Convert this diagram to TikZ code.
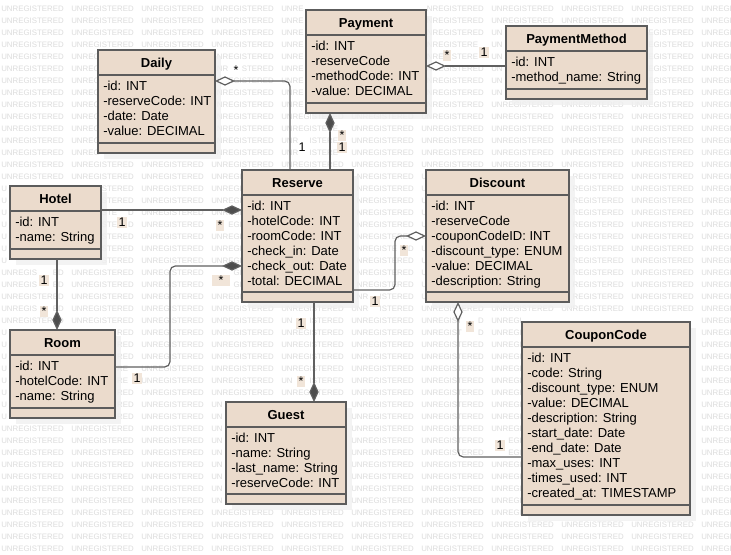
\documentclass[tikz,border=0pt]{standalone}
\usepackage{fontspec}
\setmainfont{Liberation Sans}
\usetikzlibrary{arrows.meta}
\definecolor{boxfill}{RGB}{235,219,204}
\definecolor{boxdraw}{RGB}{92,92,92}
\definecolor{linec}{RGB}{96,96,96}
\definecolor{wmc}{RGB}{220,220,220}
\definecolor{lblfill}{RGB}{241,229,217}
\tikzset{
  classbox/.style={draw=boxdraw, fill=boxfill, line width=1.4pt, inner sep=0pt, outer sep=0pt, rectangle},
  boxline/.style={draw=boxdraw, line width=1.4pt},
  shadowst/.style={fill=black!6, opacity=0.8},
  titlest/.style={font=\bfseries\fontsize{9.75}{11}\selectfont, anchor=base, inner sep=0pt},
  attrst/.style={font=\fontsize{9.75}{11}\selectfont, anchor=base west, inner sep=0pt},
  wmst/.style={font=\fontsize{5.9}{6}\selectfont, text=wmc, anchor=west, inner sep=0pt},
  conn/.style={draw=linec, line width=0.9pt, rounded corners=4pt},
  agg/.tip={Diamond[length=15pt, width=7pt, fill=white, line width=0.9pt]},
  comp/.tip={Diamond[length=15pt, width=7pt, fill=linec!80!black, line width=0.9pt]},
  lbl/.style={font=\fontsize{9.4}{11}\selectfont, anchor=base, inner sep=1pt},
  lblbg/.style={lbl, fill=lblfill},
}
\newcommand\umlclass[7]{%
  \fill[shadowst] (#2+6,#3+6) rectangle (#4+6,#5+6);
  \node[classbox, minimum width={(#4-#2)*0.75pt}, minimum height={(#5-#3)*0.75pt}] (#1) at ({(#2+#4)/2},{(#3+#5)/2}) {};
  \draw[boxline] (#2,#3+25) -- (#4,#3+25);
  \draw[boxline] (#2,#5-10) -- (#4,#5-10);
  \node[titlest] (#1-title) at ({(#2+#4)/2},#3+17.7) {#6};
  \foreach \a [count=\i] in {#7} {\node[attrst] (#1-a\i) at (#2+5,#3+25+15.3+15*\i-15) {\a};}
}
% regions that hide the watermark: class boxes, multiplicity labels, picture edge (left/top/right/bottom)
\def\coverrects{98/50/215/153,306/10/426/113,506/26/647/99,10/186/101/259,242/170/353/302,426/170/569/302,10/330/115/418,226/402/346/504,522/322/690/515,731/0/3000/700,
231/63/241/76,297/140/307/153,337/128/347/153,442/48/452/61,479/45/489/58,117/215/127/228,215/218/225/231,39/273/49/286,39/304/49/317,211/273/231/286,132/371/142/384,296/316/306/329,296/375/306/388,399/243/409/256,370/294/380/307,465/319/475/332,495/438/505/451}
\newcommand\wmflush[3]{%
  \ifx\wmrun\empty\else
    \pgfmathtruncatemacro\tmp{\wmpart+1}\xdef\wmpart{\tmp}%
    \node[wmst] (#3-\wmpart) at (#1+\wmrunstart*7.87,#2) {\wmrun};%
    \gdef\wmrun{}\gdef\wmrunstart{}%
  \fi}
\newcommand\wmword[3]{% x, y, name
  \gdef\wmhits{}%
  \foreach \bl/\bt/\br/\bb in \coverrects {%
    \pgfmathtruncatemacro\wmov{and(and(\bt<#2+2.5,\bb>#2-2.5),and(\br>#1,\bl<#1+62.5))}%
    \ifnum\wmov=1 \ifx\wmhits\empty\xdef\wmhits{\bl/\br}\else\xdef\wmhits{\wmhits,\bl/\br}\fi\fi}%
  \gdef\wmrun{}\gdef\wmrunstart{}\gdef\wmpart{0}%
  \foreach \ch/\s/\e in {U/0/0.722,N/0.722/1.444,R/1.444/2.166,E/2.166/2.833,G/2.833/3.611,I/3.611/3.889,S/3.889/4.556,T/4.556/5.167,E/5.167/5.834,R/5.834/6.556,E/6.556/7.223,D/7.223/7.945}{%
    \gdef\wmhid{0}%
    \ifx\wmhits\empty\else
      \foreach \hl/\hr in \wmhits {%
        \pgfmathtruncatemacro\wmh{and(#1+\e*7.87>\hl+1.5,#1+\s*7.87<\hr-1.5)}%
        \ifnum\wmh=1 \gdef\wmhid{1}\fi}%
    \fi
    \ifnum\wmhid=0
      \xdef\wmrun{\wmrun\ch}\ifx\wmrunstart\empty\xdef\wmrunstart{\s}\fi
    \else
      \wmflush{#1}{#2}{#3}%
    \fi}%
  \wmflush{#1}{#2}{#3}%
}
\begin{document}
\begin{tikzpicture}[x=0.75pt,y=-0.75pt]
\useasboundingbox (0,0) rectangle (731,555);
\fill[white] (0,0) rectangle (731,555);
% watermark
\foreach \wr in {0,...,45} {\foreach \wc in {0,...,10} {%
  \pgfmathtruncatemacro\wx{1+70*\wc}\pgfmathtruncatemacro\wy{9+12*\wr}%
  \wmword{\wx}{\wy}{wm-\wr-\wc}}}
% classes
\umlclass{daily}{98}{50}{215}{153}{Daily}{-id: INT,-reserveCode: INT,-date: Date,-value: DECIMAL}
\umlclass{payment}{306}{10}{426}{113}{Payment}{-id: INT,-reserveCode,-methodCode: INT,-value: DECIMAL}
\umlclass{pmethod}{506}{26}{647}{99}{PaymentMethod}{-id: INT,-method\_name: String}
\umlclass{hotel}{10}{186}{101}{259}{Hotel}{-id: INT,-name: String}
\umlclass{reserve}{242}{170}{353}{302}{Reserve}{-id: INT,-hotelCode: INT,-roomCode: INT,-check\_in: Date,-check\_out: Date,-total: DECIMAL}
\umlclass{discount}{426}{170}{569}{302}{Discount}{-id: INT,-reserveCode,-couponCodeID: INT,-discount\_type: ENUM,-value: DECIMAL,-description: String}
\umlclass{room}{10}{330}{115}{418}{Room}{-id: INT,-hotelCode: INT,-name: String}
\umlclass{guest}{226}{402}{346}{504}{Guest}{-id: INT,-name: String,-last\_name: String,-reserveCode: INT}
\umlclass{coupon}{522}{322}{690}{515}{CouponCode}{-id: INT,-code: String,-discount\_type: ENUM,-value: DECIMAL,-description: String,-start\_date: Date,-end\_date: Date,-max\_uses: INT,-times\_used: INT,-created\_at: TIMESTAMP}
% connectors
\draw[conn, {agg}-] (daily.east |- 0,81) -| (reserve.north -| 290,0);
\draw[conn, {comp}-] (payment.south -| 330,0) -- (reserve.north -| 330,0);
\draw[conn, {agg}-] (payment.east |- 0,66) -- (pmethod.west |- 0,66);
\draw[conn, -{comp}] (hotel.east |- 0,210) -- (reserve.west |- 0,210);
\draw[conn, -{comp}] (hotel.south -| 57,0) -- (room.north -| 57,0);
\draw[conn, -{comp}] (room.east |- 0,367) -| (170,300) |- (reserve.west |- 0,266);
\draw[conn, -{comp}] (reserve.south -| 314,0) -- (guest.north -| 314,0);
\draw[conn, -{agg}] (reserve.east |- 0,290) -| (395,260) |- (discount.west |- 0,236);
\draw[conn, {agg}-] (discount.south -| 458,0) |- (coupon.west |- 0,457);
% multiplicity labels
\node[lbl] (l1) at (236,74.5) {*};
\node[lbl] (l2) at (302,151.6) {1};
\node[lblbg] (l3) at (342,139.5) {*};
\node[lblbg] (l4) at (342,151.6) {1};
\node[lblbg] (l5) at (447,59.5) {*};
\node[lblbg] (l6) at (484,56.6) {1};
\node[lblbg] (l7) at (122,226.6) {1};
\node[lblbg] (l8) at (220,229.5) {*};
\node[lblbg] (l9) at (44,284.6) {1};
\node[lblbg] (l10) at (44,315.5) {*};
\node[lblbg, inner xsep=5pt] (l11) at (221,284.5) {*};
\node[lblbg] (l12) at (137,382.6) {1};
\node[lblbg] (l13) at (301,327.6) {1};
\node[lblbg] (l14) at (301,386) {*};
\node[lblbg] (l15) at (404,254.5) {*};
\node[lblbg] (l16) at (375,305.6) {1};
\node[lblbg] (l17) at (470,330.5) {*};
\node[lblbg] (l18) at (500,449.6) {1};
\end{tikzpicture}
\end{document}
